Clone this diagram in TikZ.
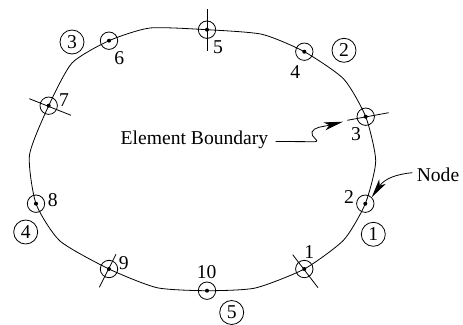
\documentclass[tikz,border=0pt]{standalone}
\usepackage{fontspec}
\setmainfont{Liberation Serif}
\usepackage{tikz}
\usetikzlibrary{arrows.meta}

\begin{document}
\begin{tikzpicture}[
  x=1pt, y=-1pt,
  font=\fontsize{19.6}{22}\selectfont,
  line width=0.8pt,
  nodecirc/.style={draw, circle, inner sep=0pt, minimum size=17.4pt},
  elemcirc/.style={draw, circle, inner sep=0pt, minimum size=24pt},
  txt/.style={inner sep=0pt},
  tick/.style={line width=0.8pt},
  arr/.style={-{Stealth[length=19pt, width=8pt, inset=5pt]}, line width=0.8pt}
]
\useasboundingbox (0,0) rectangle (463,324);
% nodes on the boundary
\node[nodecirc] (n1) at (304.3,269) {};
\node[nodecirc] (n2) at (365.3,203.7) {};
\node[nodecirc] (n3) at (365.7,116.7) {};
\node[nodecirc] (n4) at (304.3,51.7) {};
\node[nodecirc] (n5) at (207,29.7) {};
\node[nodecirc] (n6) at (109,40.7) {};
\node[nodecirc] (n7) at (48.7,105.7) {};
\node[nodecirc] (n8) at (36,203.7) {};
\node[nodecirc] (n9) at (109,269) {};
\node[nodecirc] (n10) at (207,290.7) {};
\foreach \n in {1,...,10}
  \fill (n\n.center) circle (2pt);
% element boundary
\draw plot[smooth cycle, tension=0.38] coordinates {
  (n1.center) (343.7,240) (n2.center) (375.7,161) (n3.center) (343.7,79)
  (n4.center) (262,34.3) (n5.center) (150,28) (n6.center) (72,63)
  (n7.center) (29.5,155) (n8.center) (60,241) (n9.center) (157,287.7)
  (n10.center) (255.3,288)};
% ticks at the element ends
\coordinate (t1a) at (292.7,254.7);
\coordinate (t1b) at (318,287.7);
\coordinate (t3a) at (347.3,120.3);
\coordinate (t3b) at (388.7,112.7);
\coordinate (t5a) at (207,9);
\coordinate (t5b) at (207,50.7);
\coordinate (t7a) at (29.3,98.7);
\coordinate (t7b) at (71,115.3);
\coordinate (t9a) at (116,254.3);
\coordinate (t9b) at (99.3,287.3);
\draw[tick] (t1a) -- (t1b);
\draw[tick] (t3a) -- (t3b);
\draw[tick] (t5a) -- (t5b);
\draw[tick] (t7a) -- (t7b);
\draw[tick] (t9a) -- (t9b);
% node numbers
\node[txt] (l1) at (309.3,252) {1};
\node[txt] (l2) at (349,196.7) {2};
\node[txt] (l3) at (356,134.3) {3};
\node[txt] (l4) at (295.3,71.7) {4};
\node[txt] (l5) at (218,46.7) {5};
\node[txt] (l6) at (119.3,58) {6};
\node[txt] (l7) at (64,100) {7};
\node[txt] (l8) at (52.7,200) {8};
\node[txt] (l9) at (123.7,262.7) {9};
\node[txt] (l10) at (206.7,272) {10};
% element numbers
\node[elemcirc] (e1) at (373.3,234.3) {1};
\node[elemcirc] (e2) at (344,50.3) {2};
\node[elemcirc] (e3) at (72,42) {3};
\node[elemcirc] (e4) at (25.7,232) {4};
\node[elemcirc] (e5) at (231.7,312.5) {5};
% callouts
\node[txt] (bound) at (194.5,140) {Element Boundary};
\node[txt] (nodetxt) at (438,174.7) {Node};
\coordinate (tip3) at (343,121.7);
\draw[arr] (bound.east) ++(7,1.5) -- (315,141.7) .. controls (321,141) and (310,137) .. (312,132)
  .. controls (314,127) and (322,127) .. (tip3);
\draw[arr] (nodetxt.west) ++(-4,-2) .. controls (398,174) and (385,178) .. (n2.north east);
\end{tikzpicture}
\end{document}
